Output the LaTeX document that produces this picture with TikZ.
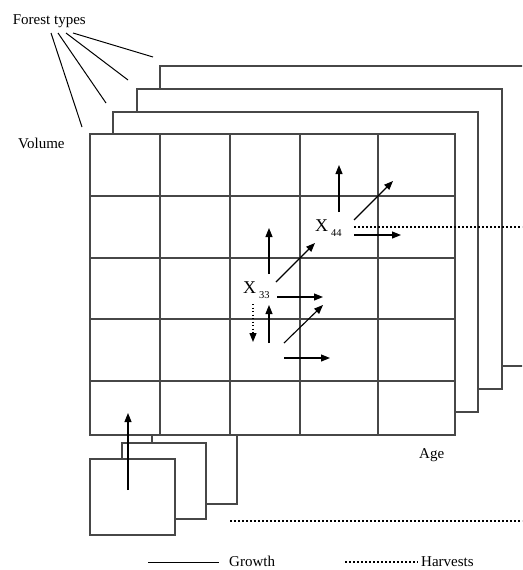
\documentclass[tikz,border=0pt]{standalone}
\usepackage{fontspec}
\setmainfont{Liberation Serif}
\usetikzlibrary{arrows.meta}
\begin{document}
\begin{tikzpicture}[x=1pt,y=-1pt,
  layerbox/.style={draw=black!72,line width=1.2pt,fill=white},
  gridline/.style={draw=black!72,line width=1.2pt},
  flow/.style={draw=black,line width=1.1pt,-{Triangle[length=9pt,width=7pt]}},
  harvest/.style={draw=black,line width=1.6pt,dash pattern=on 1.6pt off 2.4pt},
  harvestarrow/.style={draw=black,line width=1.2pt,dash pattern=on 1.3pt off 2.2pt,-{Triangle[length=9pt,width=7pt]}},
  pointer/.style={draw=black,line width=1pt},
  lbl/.style={font=\fontsize{15}{15}\selectfont,inner sep=0pt,anchor=base west},
  xl/.style={font=\fontsize{18}{18}\selectfont,inner sep=0pt,anchor=base west},
  sub/.style={font=\fontsize{10.5}{10.5}\selectfont,inner sep=0pt,anchor=base west}]
\useasboundingbox (0,0) rectangle (522,570);
\clip (0,0) rectangle (522,570);

% back layers (forest types)
\draw[layerbox] (160,66) rectangle (525,366);
\draw[layerbox] (137,89) rectangle (502,389);
\draw[layerbox] (113,112) rectangle (478,412);

% small boxes (bottom left), back one first
\draw[layerbox] (152,428) rectangle (237,504);

% main grid
\draw[layerbox] (90,134) rectangle (455,435);
\foreach \gx in {160,230,300,378} \draw[gridline] (\gx,134) -- (\gx,435);
\foreach \gy in {196,258,319,381} \draw[gridline] (90,\gy) -- (455,\gy);

\draw[layerbox] (122,443) rectangle (206,519);
\draw[layerbox] (90,459) rectangle (175,535);

% labels
\node[lbl] (ft) at (12.7,24) {Forest types};
\node[lbl] (vol) at (18,148) {Volume};
\node[lbl] (age) at (419,458) {Age};
\node[xl] (x44) at (315,231) {X};
\node[sub] (x44s) at (331,236) {44};
\node[xl] (x33) at (243,293) {X};
\node[sub] (x33s) at (259,298) {33};

% pointers from "Forest types"
\coordinate (p1a) at (51,33);  \coordinate (p1b) at (82,127);
\coordinate (p2a) at (58,33);  \coordinate (p2b) at (106,103);
\coordinate (p3a) at (66,33);  \coordinate (p3b) at (128,80);
\coordinate (p4a) at (73,33);  \coordinate (p4b) at (153,57);
\draw[pointer] (p1a) -- (p1b);
\draw[pointer] (p2a) -- (p2b);
\draw[pointer] (p3a) -- (p3b);
\draw[pointer] (p4a) -- (p4b);

% transitions from X44
\coordinate (a1s) at (339,212); \coordinate (a1e) at (339,165);
\coordinate (a2s) at (354,220); \coordinate (a2e) at (393,181);
\coordinate (a3s) at (354,235); \coordinate (a3e) at (401,235);
\draw[flow] (a1s) -- (a1e);
\draw[flow] (a2s) -- (a2e);
\draw[flow] (a3s) -- (a3e);
\coordinate (h1s) at (354,227); \coordinate (h1e) at (522,227);
\draw[harvest] (h1s) -- (h1e);

% transitions from X33
\coordinate (b1s) at (269,274); \coordinate (b1e) at (269,228);
\coordinate (b2s) at (276,282); \coordinate (b2e) at (315,243);
\coordinate (b3s) at (277,297); \coordinate (b3e) at (323,297);
\draw[flow] (b1s) -- (b1e);
\draw[flow] (b2s) -- (b2e);
\draw[flow] (b3s) -- (b3e);
\coordinate (d1s) at (253,304); \coordinate (d1e) at (253,342);
\draw[harvestarrow] (d1s) -- (d1e);

% transitions into lower cells
\coordinate (c1s) at (269,343); \coordinate (c1e) at (269,305);
\coordinate (c2s) at (284,343); \coordinate (c2e) at (323,305);
\coordinate (c3s) at (284,358); \coordinate (c3e) at (330,358);
\draw[flow] (c1s) -- (c1e);
\draw[flow] (c2s) -- (c2e);
\draw[flow] (c3s) -- (c3e);

% regeneration arrow
\coordinate (r1s) at (128,490); \coordinate (r1e) at (128,413);
\draw[flow] (r1s) -- (r1e);

% bottom harvest line
\coordinate (h2s) at (230,521); \coordinate (h2e) at (522,521);
\draw[harvest] (h2s) -- (h2e);

% legend
\coordinate (lg1) at (148,562); \coordinate (lg2) at (219,562);
\draw[pointer] (lg1) -- (lg2);
\node[lbl] (growth) at (229,566) {Growth};
\coordinate (lh1) at (345,562); \coordinate (lh2) at (418,562);
\draw[harvest] (lh1) -- (lh2);
\node[lbl] (harv) at (421,566) {Harvests};
\end{tikzpicture}
\end{document}
